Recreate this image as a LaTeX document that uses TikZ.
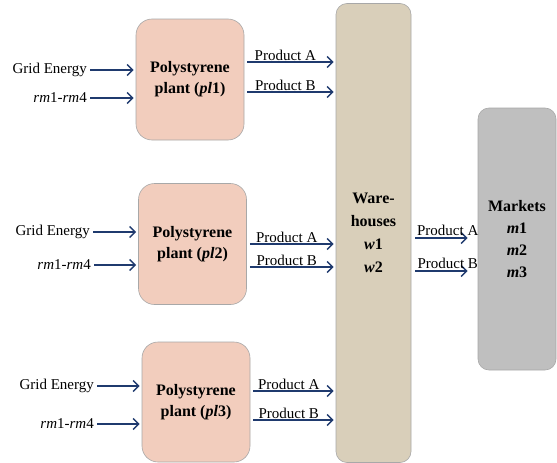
\documentclass[tikz,border=0pt]{standalone}
\usepackage{fontspec}
\setmainfont{Liberation Serif}
\usetikzlibrary{arrows.meta}
\definecolor{flow}{HTML}{1F3A6E}
\definecolor{plantfill}{HTML}{F2CDBD}
\definecolor{housefill}{HTML}{D9CFBA}
\definecolor{marketfill}{HTML}{BFBFBF}
\definecolor{edge}{HTML}{A8A8A8}
\tikzset{
  plantbox/.style={draw=edge, line width=0.6pt, fill=plantfill, rounded corners=16pt,
    minimum width=108pt, minimum height=121pt, align=center, font=\fontsize{16}{21}\selectfont\bfseries},
  housebox/.style={draw=edge, line width=0.6pt, fill=housefill, rounded corners=11pt,
    minimum width=75pt, minimum height=459pt, align=center, font=\fontsize{16}{23}\selectfont\bfseries},
  marketbox/.style={draw=edge, line width=0.6pt, fill=marketfill, rounded corners=11pt,
    minimum width=78pt, minimum height=262pt, align=center, font=\fontsize{16}{22}\selectfont\bfseries},
  inlabel/.style={anchor=east, inner sep=1pt, font=\fontsize{15}{16}\selectfont},
  flowarrow/.style={draw=flow, line width=1.5pt, -{Straight Barb[length=5.5pt,width=11pt,line width=1.5pt]}, shorten >=2pt},
  outlabel/.style={above, inner sep=1.5pt, font=\fontsize{15}{16}\selectfont, text=black},
}
\begin{document}
\begin{tikzpicture}[x=1pt, y=-1pt]
\useasboundingbox (0,0) rectangle (557,463);

% production plants
\node[plantbox] (pl1) at (190,79.5) {Polystyrene\\plant (\textit{pl}1)};
\node[plantbox] (pl2) at (192.5,244) {Polystyrene\\plant (\textit{pl}2)};
\node[plantbox, minimum height=120pt] (pl3) at (196,402) {Polystyrene\\plant (\textit{pl}3)};

% warehouses and markets
\node[housebox] (wh) at (373.5,233) {Ware-\\houses\\\textit{w}1\\\textit{w}2};
\node[marketbox] (mk) at (517,239) {Markets\\\textit{m}1\\\textit{m}2\\\textit{m}3};

% inputs to each plant
\node[inlabel] (ge1) at (88,70) {Grid Energy};
\node[inlabel] (rm1) at (88,98) {\textit{rm}1-\textit{rm}4};
\node[inlabel] (ge2) at (91,232) {Grid Energy};
\node[inlabel] (rm2) at (92,265) {\textit{rm}1-\textit{rm}4};
\node[inlabel] (ge3) at (95,386) {Grid Energy};
\node[inlabel] (rm3) at (95,424) {\textit{rm}1-\textit{rm}4};

\foreach \i/\p in {ge1/pl1, rm1/pl1, ge2/pl2, rm2/pl2, ge3/pl3, rm3/pl3}
  \draw[flowarrow] ([xshift=2pt]\i.east) -- (\i.east -| \p.west);

% plant outputs to the warehouses
\coordinate (a1) at (pl1.east |- 0,62);
\coordinate (b1) at (pl1.east |- 0,92);
\coordinate (a2) at (pl2.east |- 0,244);
\coordinate (b2) at (pl2.east |- 0,267);
\coordinate (a3) at (pl3.east |- 0,391);
\coordinate (b3) at (pl3.east |- 0,420);
\foreach \c in {a1,b1,a2,b2,a3,b3}
  \draw[flowarrow] ([xshift=3pt]\c) -- (\c -| wh.west);
\foreach \c/\t in {a1/A,b1/B,a2/A,b2/B,a3/A,b3/B}
  \path ([xshift=3pt]\c) -- (\c -| wh.west) node[outlabel, pos=0.43] {Product \t};

% warehouse outputs to the markets
\coordinate (wa) at ([xshift=4pt]wh.east |- 0,238);
\coordinate (wb) at ([xshift=4pt]wh.east |- 0,271);
\draw[flowarrow, shorten >=10pt] (wa) -- (wa -| mk.west) node[outlabel, pos=0.52] {Product A};
\draw[flowarrow, shorten >=10pt] (wb) -- (wb -| mk.west) node[outlabel, pos=0.52] {Product B};
\end{tikzpicture}
\end{document}
